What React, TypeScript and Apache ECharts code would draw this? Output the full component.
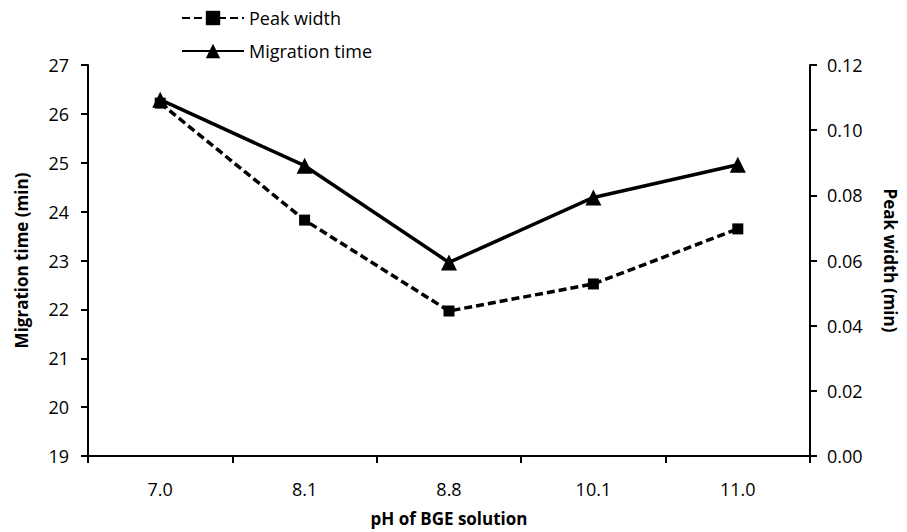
import React, { useEffect, useRef } from "react";
import * as echarts from "echarts";

const categories = ["7.0", "8.1", "8.8", "10.1", "11.0"];
const peakWidth = [0.1083, 0.0724, 0.0445, 0.0528, 0.0697];
const migrationTime = [26.29, 24.94, 22.96, 24.29, 24.96];
const leftTicks = { min: 19, max: 27, interval: 1 };
const rightTicks = { min: 0, max: 0.12, interval: 0.02 };

const FONT = "'Open Sans', 'Liberation Sans', sans-serif";

export default function App() {
  const ref = useRef<HTMLDivElement>(null);
  useEffect(() => {
    if (!ref.current) return;
    const chart = echarts.init(ref.current, undefined, { renderer: "svg" });
    const axisLine = { show: true, lineStyle: { color: "#000", width: 2 } };
    const axisTick = { show: true, length: 7, lineStyle: { color: "#000", width: 2 } };
    const nameStyle = { color: "#000", fontSize: 17, fontWeight: "bold", fontFamily: FONT };
    chart.setOption({
      animation: false,
      backgroundColor: "#fff",
      textStyle: { fontFamily: FONT },
      legend: {
        orient: "vertical",
        left: 176,
        top: 4,
        itemWidth: 62,
        itemHeight: 18,
        itemGap: 15,
        textStyle: { fontFamily: FONT, fontSize: 18, color: "#000" },
        data: ["Peak width", "Migration time"],
      },
      grid: { left: 88, right: 92, top: 65, bottom: 75 },
      xAxis: {
        type: "category",
        data: categories,
        boundaryGap: true,
        axisLine,
        axisTick,
        axisLabel: { color: "#000", fontSize: 18, margin: 24, fontFamily: FONT },
        name: "pH of BGE solution",
        nameLocation: "middle",
        nameGap: 54,
        nameTextStyle: nameStyle,
      },
      yAxis: [
        {
          type: "value",
          position: "left",
          min: leftTicks.min,
          max: leftTicks.max,
          interval: leftTicks.interval,
          axisLine,
          axisTick,
          splitLine: { show: false },
          axisLabel: { color: "#000", fontSize: 18, margin: 19, fontFamily: FONT },
          name: "Migration time (min)",
          nameLocation: "middle",
          nameRotate: 90,
          nameGap: 58,
          nameTextStyle: nameStyle,
        },
        {
          type: "value",
          position: "right",
          min: rightTicks.min,
          max: rightTicks.max,
          interval: rightTicks.interval,
          axisLine,
          axisTick,
          splitLine: { show: false },
          axisLabel: {
            color: "#000",
            fontSize: 18,
            margin: 17,
            fontFamily: FONT,
            formatter: (v: number) => v.toFixed(2),
          },
          name: "Peak width (min)",
          nameLocation: "middle",
          nameRotate: -90,
          nameGap: 72,
          nameTextStyle: nameStyle,
        },
      ],
      series: [
        {
          name: "Peak width",
          type: "line",
          yAxisIndex: 1,
          data: peakWidth,
          symbol: "rect",
          symbolSize: 11,
          lineStyle: { color: "#000", width: 3.5, type: [8, 4] },
          itemStyle: { color: "#000" },
          z: 2,
        },
        {
          name: "Migration time",
          type: "line",
          yAxisIndex: 0,
          data: migrationTime,
          symbol: "triangle",
          symbolSize: 16,
          lineStyle: { color: "#000", width: 3.5 },
          itemStyle: { color: "#000" },
          z: 3,
        },
      ],
    });
    return () => chart.dispose();
  }, []);
  return (
    <div
      ref={ref}
      style={{ position: "fixed", top: 0, left: 0, width: 907, height: 532 }}
    />
  );
}
